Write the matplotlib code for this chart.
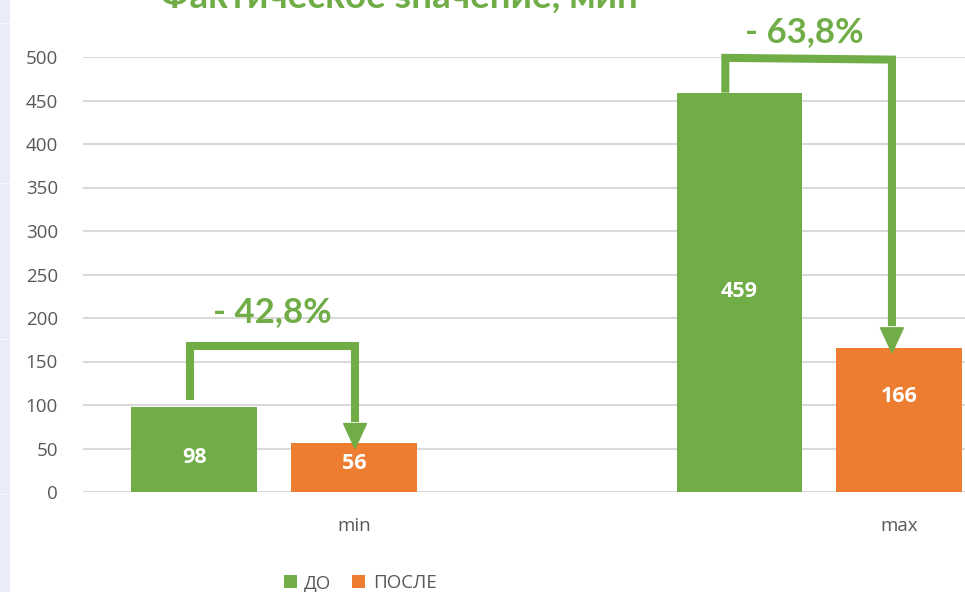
import numpy as np
import matplotlib
matplotlib.use('Agg')
import matplotlib.pyplot as plt
from matplotlib.patches import Rectangle, Polygon

plt.rcParams['font.family'] = ['Open Sans', 'DejaVu Sans']
GREEN_FONT = ['Lato', 'Open Sans', 'DejaVu Sans']

categories = ['min', 'max']
before = [98, 459]
after = [56, 166]
series_names = ['ДО', 'ПОСЛЕ']
change_labels = ['- 42,8%', '- 63,8%']
title = 'Фактическое значение, мин'

GREEN = '#70AD47'
ORANGE = '#ED7D31'
GRAY = '#595959'

W, H = 965, 592
fig = plt.figure(figsize=(W / 100, H / 100), dpi=100)

# light strip on the left edge (part of the slide behind the chart)
for y0, y1 in [(0, 22), (24, 182), (184, 338), (340, 493), (495, 592)]:
    fig.patches.append(Rectangle((0, 1 - y1 / H), 9 / W, (y1 - y0) / H,
                                 transform=fig.transFigure, color='#E9EDF7', zorder=0))

ax = fig.add_axes([83 / W, 100 / H, (W - 83) / W, 435 / H])
x = np.arange(len(categories))
slot = 0.2927
width = 0.231
ax.bar(x - slot, before, width, color=GREEN, label=series_names[0], zorder=2)
ax.bar(x, after, width, color=ORANGE, label=series_names[1], zorder=2)

ax.set_xlim(-0.497, 1.121)
ax.set_ylim(0, 500)
ax.set_yticks(np.arange(0, 501, 50))
ax.set_xticks(x)
ax.set_xticklabels(categories)
ax.grid(axis='y', color='#D9D9D9', lw=1.5, zorder=0)
ax.set_axisbelow(True)
for s in ax.spines.values():
    s.set_visible(False)
ax.tick_params(axis='y', length=0, pad=18, labelsize=13.5, labelcolor=GRAY)
ax.tick_params(axis='x', length=0, pad=18, labelsize=13.5, labelcolor=GRAY)

# value labels inside the bars
before_label_y = [40, 230]
after_label_y = [33, 110]
for i in range(len(categories)):
    ax.text(x[i] - slot, before_label_y[i], str(before[i]), color='white',
            fontsize=15.5, fontweight='bold', ha='center', va='center', zorder=3)
    ax.text(x[i], after_label_y[i], str(after[i]), color='white',
            fontsize=15.5, fontweight='bold', ha='center', va='center', zorder=3)

# bracket arrows from ДО to ПОСЛЕ
bracket_top = [(168, 168), (499, 497)]
start_gap = [8, 0]
left_shift = [-0.008, -0.026]
right_shift = [0.002, -0.013]
tip_gap = [-6, -6]
head_w, head_l = 0.042, 28.7
text_pos = [(-0.15, 207), (0.826, 529)]
for i in range(len(categories)):
    xl = x[i] - slot + left_shift[i]
    xr = x[i] + right_shift[i]
    tip = after[i] + tip_gap[i]
    base = tip + head_l
    ax.plot([xl, xl, xr, xr],
            [before[i] + start_gap[i], bracket_top[i][0], bracket_top[i][1], base + 2],
            color=GREEN, lw=5.8, solid_joinstyle='miter', solid_capstyle='butt',
            clip_on=False, zorder=4)
    ax.add_patch(Polygon([(xr - head_w / 2, base), (xr + head_w / 2, base), (xr, tip)],
                         closed=True, color=GREEN, clip_on=False, zorder=4))
    ax.text(text_pos[i][0], text_pos[i][1], change_labels[i], color=GREEN,
            fontsize=25, fontweight='bold', ha='center', va='center', zorder=4,
            family=GREEN_FONT)

fig.text(399 / W, 1 - 8 / H, title, color=GREEN, fontsize=26.5, fontweight='bold',
         ha='center', va='baseline', family=GREEN_FONT)

fig.legend(loc='center', bbox_to_anchor=(360 / W, 1 - 583 / H), ncol=2, frameon=False,
           handlelength=0.7, handleheight=0.7, handletextpad=0.4, columnspacing=1.1,
           fontsize=13.5, labelcolor=GRAY)

fig.savefig('out.png', dpi=100)
